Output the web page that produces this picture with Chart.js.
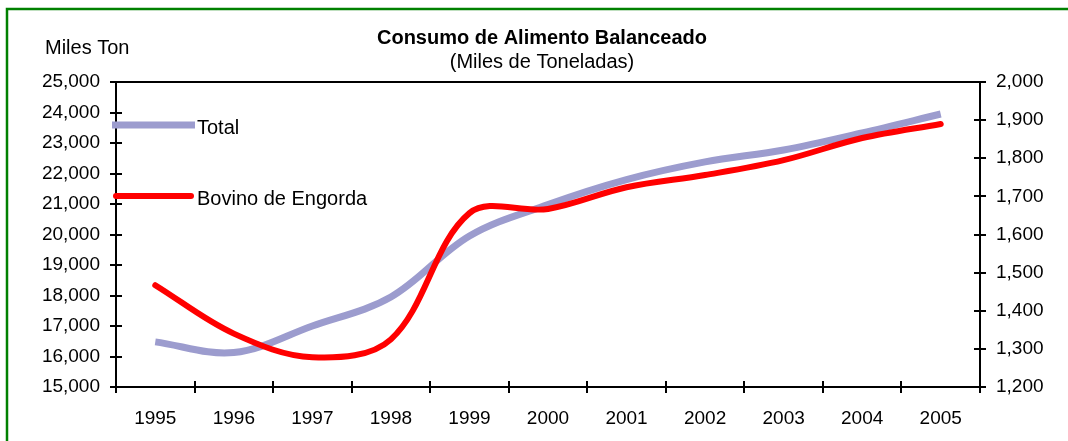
<!DOCTYPE html>
<html>
<head>
<meta charset="utf-8">
<script src="https://cdn.jsdelivr.net/npm/chart.js@4/dist/chart.umd.min.js"></script>
<style>
  body { margin: 0; background: #fff; }
  #wrap { width: 1068px; height: 441px; position: relative; }
</style>
</head>
<body>
<div id="wrap"><canvas id="chart" width="1068" height="441"></canvas></div>
<script>
// data
const years = ['1995', '1996', '1997', '1998', '1999', '2000', '2001', '2002', '2003', '2004', '2005'];
const totalValues = [16480, 16130, 17000, 17950, 19950, 20980, 21800, 22380, 22770, 23330, 23950];
const bovinoValues = [1467, 1340, 1278, 1325, 1656, 1667, 1724, 1756, 1795, 1853, 1890];
const leftTicks = [15000, 16000, 17000, 18000, 19000, 20000, 21000, 22000, 23000, 24000, 25000];
const rightTicks = [1200, 1300, 1400, 1500, 1600, 1700, 1800, 1900, 2000];

const FONT = '"Liberation Sans", Arial, sans-serif';

function fmt(v) {
    return v.toLocaleString('en-US');
}

// frame, titles, axes with crossing ticks and the inline legend
const decorations = {
    id: 'decorations',
    beforeDraw(chart) {
        const ctx = chart.ctx;
        ctx.save();
        ctx.fillStyle = '#fff';
        ctx.fillRect(0, 0, chart.width, chart.height);
        ctx.strokeStyle = '#008000';
        ctx.lineWidth = 2.5;
        ctx.beginPath();
        ctx.moveTo(7, 441);
        ctx.lineTo(7, 9);
        ctx.lineTo(1068, 9);
        ctx.stroke();

        ctx.fillStyle = '#000';
        ctx.textAlign = 'center';
        ctx.textBaseline = 'middle';
        ctx.font = 'bold 20px ' + FONT;
        ctx.fillText('Consumo de Alimento Balanceado', 542, 38);
        ctx.font = '20px ' + FONT;
        ctx.fillText('(Miles de Toneladas)', 542, 62);
        ctx.textAlign = 'left';
        ctx.fillText('Miles Ton', 45, 48);
        ctx.restore();
    },
    afterDatasetsDraw(chart) {
        const ctx = chart.ctx;
        const a = chart.chartArea;
        const yl = chart.scales.y;
        const yr = chart.scales.y1;
        ctx.save();
        ctx.strokeStyle = '#000';
        ctx.lineWidth = 2;
        ctx.beginPath();
        // plot frame (left, top, right, bottom)
        ctx.rect(a.left, a.top, a.right - a.left, a.bottom - a.top);
        // left axis ticks
        leftTicks.forEach(function (v) {
            const py = Math.round(yl.getPixelForValue(v));
            ctx.moveTo(a.left - 6, py);
            ctx.lineTo(a.left + 6, py);
        });
        // right axis ticks
        rightTicks.forEach(function (v) {
            const py = Math.round(yr.getPixelForValue(v));
            ctx.moveTo(a.right - 6, py);
            ctx.lineTo(a.right + 6, py);
        });
        // category boundary ticks
        const step = (a.right - a.left) / years.length;
        for (let i = 0; i <= years.length; i++) {
            const px = Math.round(a.left + i * step);
            ctx.moveTo(px, a.bottom - 6);
            ctx.lineTo(px, a.bottom + 6);
        }
        ctx.stroke();

        // legend inside plot, at the left
        const rows = [125, 196];
        chart.data.datasets.forEach(function (ds, i) {
            ctx.strokeStyle = ds.borderColor;
            ctx.lineWidth = ds.borderWidth;
            ctx.lineCap = ds.borderCapStyle || 'butt';
            ctx.beginPath();
            ctx.moveTo(i === 0 ? 112 : 116, rows[i]);
            ctx.lineTo(i === 0 ? 195 : 191, rows[i]);
            ctx.stroke();
            ctx.fillStyle = '#000';
            ctx.font = '20px ' + FONT;
            ctx.textAlign = 'left';
            ctx.textBaseline = 'middle';
            ctx.fillText(ds.label, 197, rows[i] + 3);
        });
        ctx.restore();
    }
};

new Chart(document.getElementById('chart'), {
    type: 'line',
    data: {
        labels: years,
        datasets: [
            {
                label: 'Total',
                data: totalValues,
                yAxisID: 'y',
                borderColor: '#9c9cce',
                borderWidth: 7,
                tension: 0.35,
                pointRadius: 0,
                fill: false,
                order: 2
            },
            {
                label: 'Bovino de Engorda',
                data: bovinoValues,
                yAxisID: 'y1',
                borderColor: '#ff0000',
                borderWidth: 6,
                borderCapStyle: 'round',
                tension: 0.35,
                pointRadius: 0,
                fill: false,
                order: 1
            }
        ]
    },
    options: {
        responsive: false,
        animation: false,
        layout: { padding: { top: 82, left: 0, right: 0, bottom: 0 } },
        plugins: {
            legend: { display: false },
            title: { display: false },
            tooltip: { enabled: false }
        },
        scales: {
            x: {
                type: 'category',
                offset: true,
                grid: { display: false, drawTicks: false },
                border: { display: false },
                ticks: { color: '#000', font: { family: FONT, size: 19 }, padding: 20, maxRotation: 0 },
                afterFit: function (s) { s.height = 54; }
            },
            y: {
                position: 'left',
                min: 15000,
                max: 25000,
                grid: { display: false, drawTicks: false },
                border: { display: false },
                afterBuildTicks: function (s) { s.ticks = leftTicks.map(function (v) { return { value: v }; }); },
                ticks: { color: '#000', font: { family: FONT, size: 19 }, padding: 16, callback: fmt },
                afterFit: function (s) { s.width = 116; }
            },
            y1: {
                position: 'right',
                min: 1200,
                max: 2000,
                grid: { display: false, drawTicks: false },
                border: { display: false },
                afterBuildTicks: function (s) { s.ticks = rightTicks.map(function (v) { return { value: v }; }); },
                ticks: { color: '#000', font: { family: FONT, size: 19 }, padding: 16, callback: fmt },
                afterFit: function (s) { s.width = 88; }
            }
        }
    },
    plugins: [decorations]
});
</script>
</body>
</html>
